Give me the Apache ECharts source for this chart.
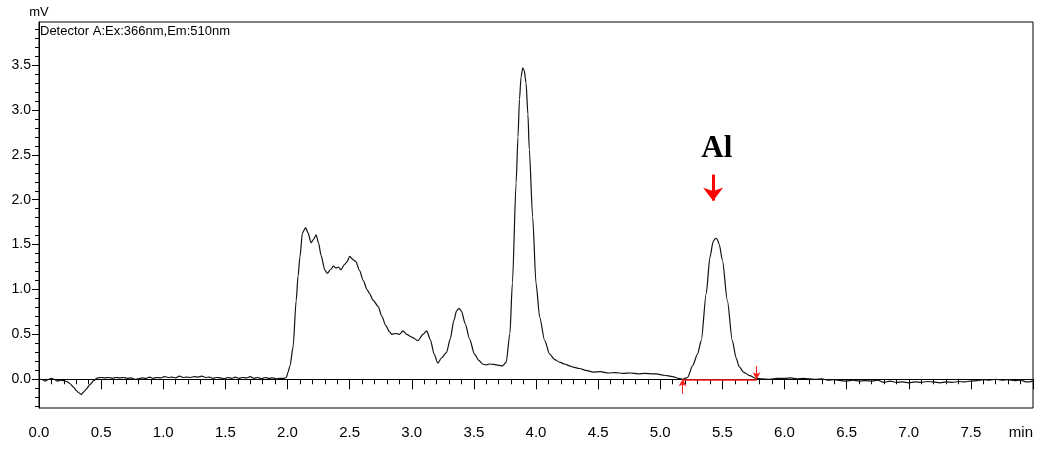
<!DOCTYPE html>
<html>
<head>
<meta charset="utf-8">
<script src="https://cdn.jsdelivr.net/npm/echarts@6/dist/echarts.min.js"></script>
<style>
html,body{margin:0;padding:0;background:#fff;}
#chart{width:1040px;height:449px;}
</style>
</head>
<body>
<div id="chart"></div>
<script>
// ---- data (retention time in min, signal in mV) ----
const times = [
  0.00,0.03,0.05,0.07,0.10,0.12,0.15,0.17,0.20,0.23,0.25,0.28,0.30,0.32,0.34,0.36,0.38,0.41,0.44,0.47,0.50,
  0.53,0.56,0.59,0.62,0.65,0.68,0.71,0.74,0.77,0.80,0.83,0.86,0.89,0.92,0.95,0.98,1.01,1.04,1.07,1.10,
  1.13,1.16,1.19,1.22,1.25,1.28,1.31,1.34,1.37,1.40,1.43,1.46,1.49,1.52,1.55,1.58,1.61,1.64,1.67,1.70,
  1.73,1.76,1.79,1.82,1.85,1.88,1.91,1.94,1.97,1.99,
  2.005,2.02,2.045,2.07,2.085,2.10,2.12,2.146,2.165,2.19,2.21,2.23,2.25,2.27,2.30,2.32,2.345,2.37,2.39,
  2.41,2.43,2.46,2.48,2.50,2.53,2.55,2.58,2.61,2.64,2.66,2.69,2.73,2.76,2.79,2.82,2.84,2.87,2.90,2.93,
  2.96,3.00,3.05,3.09,3.12,3.15,3.18,3.21,3.24,3.28,3.31,3.34,3.36,3.38,3.40,3.43,3.465,3.505,3.54,3.57,
  3.60,3.625,3.66,3.70,3.73,3.76,3.79,3.81,3.84,3.855,3.867,3.88,3.893,3.905,3.92,3.935,3.946,3.973,4.00,4.03,4.07,4.11,4.15,
  4.19,4.23,4.27,4.30,4.35,4.40,4.46,4.52,4.58,4.64,4.70,4.76,4.82,4.88,4.94,4.97,5.03,5.10,5.15,5.18,
  5.22,5.26,5.30,5.33,5.37,5.40,5.425,5.44,5.45,5.46,5.475,5.50,5.54,5.58,5.61,5.635,5.67,5.72,5.77,5.82,5.88,
  5.94,6.00,6.05,6.10,6.15,6.20,6.25,6.30,6.35,6.40,6.45,6.50,6.55,6.60,6.65,6.70,6.75,6.80,6.85,6.90,
  6.95,7.00,7.05,7.10,7.15,7.20,7.25,7.30,7.35,7.40,7.45,7.50,7.55,7.60,7.65,7.70,7.75,7.80,7.85,7.90,
  7.95,8.00
];
const signal = [
  0.00,-0.005,-0.02,-0.005,0.01,0.0,-0.02,-0.01,-0.015,-0.03,-0.05,-0.09,-0.125,-0.15,-0.17,-0.14,-0.11,-0.06,-0.015,0.015,0.02,
  0.015,0.02,0.01,0.02,0.015,0.02,0.01,0.015,0.0,0.005,0.015,0.01,0.025,0.01,0.02,0.015,0.03,0.02,0.025,0.015,
  0.035,0.02,0.025,0.02,0.03,0.025,0.035,0.02,0.025,0.01,0.02,0.015,0.005,0.02,0.01,0.025,0.01,0.02,0.015,0.03,
  0.01,0.02,0.005,0.02,0.01,0.015,0.005,0.01,0.01,0.02,
  0.08,0.15,0.36,0.88,1.15,1.36,1.63,1.69,1.63,1.52,1.56,1.61,1.52,1.38,1.22,1.18,1.22,1.26,1.24,
  1.25,1.22,1.28,1.31,1.37,1.33,1.31,1.21,1.10,1.00,0.955,0.88,0.81,0.70,0.60,0.53,0.50,0.51,0.50,0.54,
  0.50,0.47,0.43,0.50,0.54,0.44,0.28,0.18,0.24,0.30,0.45,0.66,0.76,0.79,0.76,0.62,0.45,0.28,0.21,0.17,
  0.16,0.17,0.165,0.155,0.15,0.19,0.51,1.07,2.19,2.70,3.12,3.37,3.47,3.44,3.30,2.95,2.56,1.81,1.07,0.69,0.43,0.28,0.22,
  0.19,0.17,0.15,0.135,0.12,0.10,0.08,0.085,0.07,0.075,0.065,0.07,0.06,0.065,0.06,0.06,0.045,0.03,0.01,0.0,
  0.02,0.15,0.28,0.43,0.955,1.36,1.53,1.565,1.57,1.555,1.50,1.33,0.88,0.43,0.24,0.14,0.08,0.04,0.01,0.005,0.0,
  0.01,0.01,0.015,0.005,0.01,0.005,0.0,0.005,-0.01,-0.005,-0.015,-0.02,-0.01,-0.02,-0.015,-0.02,-0.01,-0.035,-0.02,-0.035,
  -0.03,-0.04,-0.03,-0.035,-0.025,-0.03,-0.04,-0.03,-0.035,-0.025,-0.03,-0.02,-0.015,-0.005,-0.01,0.0,-0.01,-0.005,-0.015,-0.01,
  -0.03,-0.02
];
const yMajorTicks = [0.0,0.5,1.0,1.5,2.0,2.5,3.0,3.5];
const detectorText = 'Detector A:Ex:366nm,Em:510nm';
const peakName = 'Al';
const peakMarker = {time: 5.425, from: 2.28, to: 1.99, labelTime: 5.455, labelValue: 2.56};
const integration = {start: 5.18, end: 5.775, level: 0.0, startArrowFrom: -0.16, endArrowFrom: 0.15};
const xRange = [0, 8];
const yRange = [-0.32, 3.98];

// ---- chart ----
const SANS = '"Liberation Sans Narrow","Arial Narrow","Liberation Sans",Arial,sans-serif';
const pts = times.map((t, i) => [t, signal[i]]);
const yMinor = [];
for (let k = -3; k <= 39; k++) { if (k % 5 !== 0) yMinor.push(k / 10); }

const chart = echarts.init(document.getElementById('chart'), null, {renderer: 'canvas'});
const red = '#ff1a1a';
chart.setOption({
  animation: false,
  backgroundColor: '#fff',
  title: {
    text: detectorText, left: 40, top: 25, padding: 0,
    textStyle: {fontFamily: SANS, fontSize: 13, fontWeight: 'normal', color: '#000'}
  },
  grid: {left: 39, right: 7, top: 22, bottom: 41, show: true, borderColor: '#000', borderWidth: 1, containLabel: false},
  xAxis: {
    type: 'value', min: xRange[0], max: xRange[1], interval: 0.5,
    axisLine: {show: true, lineStyle: {color: '#000', width: 1}},
    axisTick: {show: true, length: 10, lineStyle: {color: '#000'}},
    minorTick: {show: true, splitNumber: 5, length: 5, lineStyle: {color: '#000'}},
    splitLine: {show: false},
    axisLabel: {
      color: '#000', fontFamily: SANS, fontSize: 15, margin: 17,
      alignMaxLabel: 'right',
      formatter: v => (Math.abs(v - 8) < 1e-9 ? 'min' : v.toFixed(1))
    }
  },
  yAxis: [{
    type: 'value', min: yRange[0], max: yRange[1],
    name: 'mV', nameLocation: 'end', nameGap: 3,
    nameTextStyle: {fontFamily: SANS, fontSize: 13, color: '#000', align: 'center'},
    axisLine: {show: true, lineStyle: {color: '#000', width: 1}},
    axisTick: {show: true, length: 7, lineStyle: {color: '#000'}, customValues: yMajorTicks},
    splitLine: {show: false},
    axisLabel: {
      color: '#000', fontFamily: SANS, fontSize: 14, margin: 8,
      customValues: yMajorTicks, formatter: v => v.toFixed(1)
    }
  }, {
    type: 'value', min: yRange[0], max: yRange[1], position: 'left',
    axisLine: {show: false},
    axisTick: {show: true, length: 4, lineStyle: {color: '#000'}, customValues: yMinor},
    axisLabel: {show: false},
    splitLine: {show: false}
  }],
  series: [{
    type: 'line', data: pts, showSymbol: false, symbol: 'none',
    smooth: 0.25, smoothMonotone: 'x',
    lineStyle: {color: '#111', width: 1.2},
    silent: true,
    markLine: {
      silent: true, animation: false,
      label: {show: false},
      data: [
        [{coord: [integration.start, integration.level], symbol: 'none', lineStyle: {color: red, width: 1.6, type: 'solid'}},
         {coord: [integration.end, integration.level], symbol: 'none'}],
        [{coord: [integration.start, integration.startArrowFrom], symbol: 'none', lineStyle: {color: red, width: 1, type: 'solid'}},
         {coord: [integration.start, integration.level], symbol: 'arrow', symbolSize: [6, 7]}],
        [{coord: [integration.end, integration.endArrowFrom], symbol: 'none', lineStyle: {color: red, width: 1, type: 'solid'}},
         {coord: [integration.end, integration.level], symbol: 'arrow', symbolSize: [6, 7]}],
        [{coord: [peakMarker.time, peakMarker.from], symbol: 'none', lineStyle: {color: '#ff0000', width: 3, type: 'solid'}},
         {coord: [peakMarker.time, peakMarker.to], symbol: 'arrow', symbolSize: [15, 13]}]
      ]
    },
    markPoint: {
      silent: true, animation: false,
      symbol: 'circle', symbolSize: 1, itemStyle: {color: 'rgba(0,0,0,0)'},
      data: [{coord: [peakMarker.labelTime, peakMarker.labelValue], value: peakName}],
      label: {
        show: true, position: 'inside', formatter: peakName, color: '#000',
        fontFamily: '"Liberation Serif","Times New Roman",serif', fontWeight: 'bold', fontSize: 31
      }
    }
  }]
});
</script>
</body>
</html>
